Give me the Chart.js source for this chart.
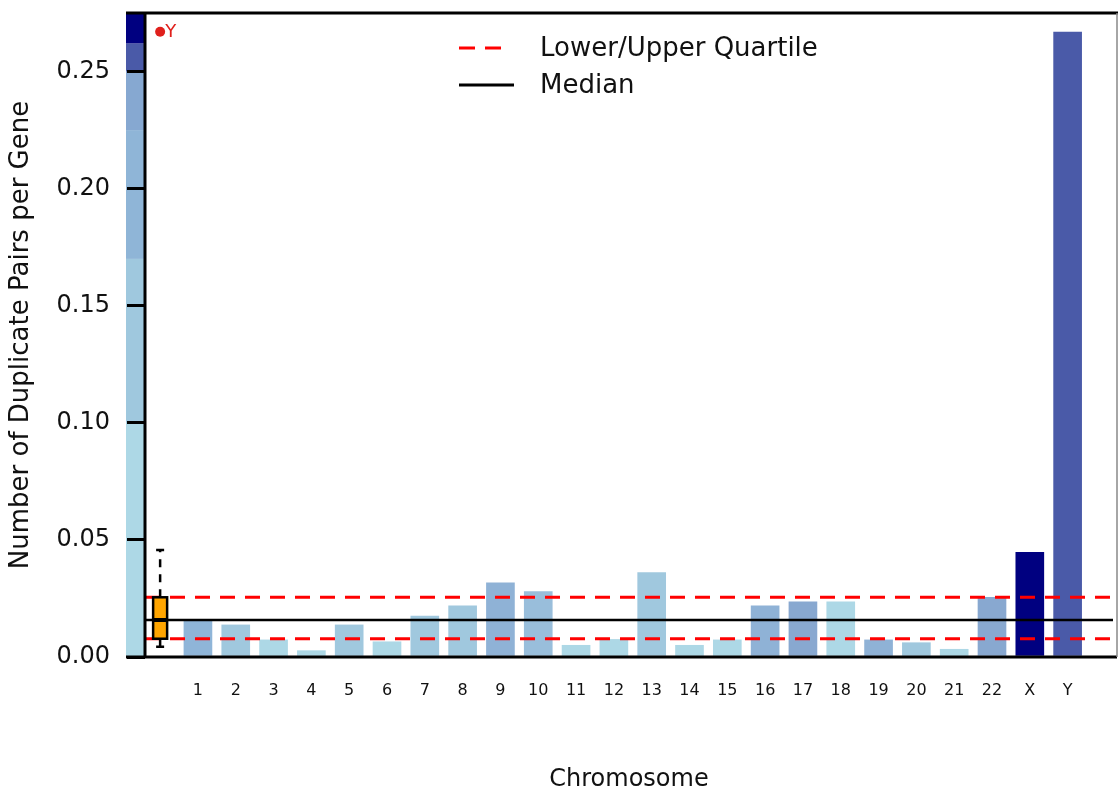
<!DOCTYPE html>
<html>
<head>
<meta charset="utf-8">
<script src="https://cdn.jsdelivr.net/npm/chart.js@4/dist/chart.umd.min.js"></script>
<style>
  body { margin: 0; background: #fff; }
  #wrap { width: 1118px; height: 796px; position: relative; }
</style>
</head>
<body>
<div id="wrap"><canvas id="chart"></canvas></div>
<script>
// Chromosome categories and duplicate pairs per gene
const chromosomes = ['1','2','3','4','5','6','7','8','9','10','11','12','13','14','15','16','17','18','19','20','21','22','X','Y'];
const dupPerGene = [0.0157, 0.0137, 0.0073, 0.0027, 0.0137, 0.0065, 0.0175, 0.0218, 0.0317, 0.0279, 0.0050, 0.0075,
                    0.0361, 0.0050, 0.0073, 0.0219, 0.0236, 0.0236, 0.0073, 0.0061, 0.0033, 0.0255, 0.0447, 0.2668];
const barColors = ['#8fb5d8', '#a0c8de', '#add8e6', '#add8e6', '#a0c8de', '#add8e6', '#a0c8de', '#a0c8de', '#8fb2d6', '#99bedb',
                   '#add8e6', '#add8e6', '#a0c8de', '#add8e6', '#add8e6', '#8fb2d6', '#88a8d0', '#add8e6', '#8fb2d6', '#a0c8de',
                   '#add8e6', '#88a8d0', '#000080', '#4a5aa8'];

// Boxplot summary (min whisker, Q1, median, Q3, max whisker) and outlier
const boxStats = [0.0044, 0.0078, 0.0158, 0.0255, 0.0457];
const outlierValue = 0.267;
const outlierLabel = 'Y';

// Left colour key: breaks (value bounds) and colours
const keyBreaks = [0, 0.10, 0.17, 0.225, 0.25, 0.262, 0.275];
const keyColors = ['#add8e6', '#9fc8de', '#8fb5d7', '#86a8d1', '#4a5aa8', '#000080'];

const yTicks = [0, 0.05, 0.10, 0.15, 0.20, 0.25];
const FONT = "'DejaVu Sans', Arial, sans-serif";

const xMin = -0.4, xMax = 25.2;

const keyPlugin = {
  id: 'keyPlugin',
  beforeDraw(chart) {
    const ctx = chart.ctx, y = chart.scales.y, area = chart.chartArea;
    ctx.save();
    for (let i = 0; i < keyColors.length; i++) {
      const top = y.getPixelForValue(keyBreaks[i + 1]);
      const bot = y.getPixelForValue(keyBreaks[i]);
      ctx.fillStyle = keyColors[i];
      ctx.fillRect(area.left - 19, top, 19, bot - top);
    }
    ctx.restore();
  },
  afterDatasetsDraw(chart) {
    const ctx = chart.ctx, x = chart.scales.x, y = chart.scales.y, area = chart.chartArea;
    ctx.save();

    // boxplot
    const cx = x.getPixelForValue(0);
    const [mn, q1, med, q3, mx] = boxStats.map(v => y.getPixelForValue(v));
    ctx.strokeStyle = '#000';
    ctx.lineWidth = 2.5;
    ctx.setLineDash([8, 7]);
    ctx.beginPath();
    ctx.moveTo(cx, q3); ctx.lineTo(cx, mx);
    ctx.moveTo(cx, q1); ctx.lineTo(cx, mn);
    ctx.stroke();
    ctx.setLineDash([]);
    ctx.beginPath();
    ctx.moveTo(cx - 4, mx); ctx.lineTo(cx + 4, mx);
    ctx.moveTo(cx - 4, mn); ctx.lineTo(cx + 4, mn);
    ctx.stroke();
    ctx.fillStyle = '#ffa500';
    ctx.fillRect(cx - 7, q3, 14, q1 - q3);
    ctx.strokeRect(cx - 7, q3, 14, q1 - q3);
    ctx.lineWidth = 4;
    ctx.beginPath();
    ctx.moveTo(cx - 7, med); ctx.lineTo(cx + 7, med);
    ctx.stroke();

    // outlier label
    ctx.fillStyle = '#e0201c';
    ctx.font = '18px ' + FONT;
    ctx.textBaseline = 'middle';
    ctx.fillText(outlierLabel, cx + 5, y.getPixelForValue(outlierValue) + 1);

    // frame
    ctx.strokeStyle = '#000';
    ctx.lineWidth = 3;
    ctx.beginPath();
    ctx.moveTo(area.left - 19, area.top); ctx.lineTo(chart.width, area.top);
    ctx.moveTo(area.left - 19, area.bottom); ctx.lineTo(chart.width - 1, area.bottom);
    ctx.moveTo(area.left, area.top); ctx.lineTo(area.left, area.bottom);
    ctx.stroke();
    ctx.lineWidth = 1.5;
    ctx.strokeStyle = '#888';
    ctx.beginPath();
    ctx.moveTo(chart.width - 1, area.top); ctx.lineTo(chart.width - 1, area.bottom);
    ctx.stroke();

    // legend
    ctx.font = '26px ' + FONT;
    ctx.fillStyle = '#111';
    ctx.strokeStyle = '#ff0000';
    ctx.lineWidth = 3;
    ctx.setLineDash([16, 10]);
    ctx.beginPath(); ctx.moveTo(459, 48); ctx.lineTo(503, 48); ctx.stroke();
    ctx.setLineDash([]);
    ctx.strokeStyle = '#000';
    ctx.beginPath(); ctx.moveTo(459, 85); ctx.lineTo(514, 85); ctx.stroke();
    ctx.fillText('Lower/Upper Quartile', 540, 49);
    ctx.fillText('Median', 540, 86);
    ctx.restore();
  }
};

const barData = dupPerGene.map((v, i) => ({ x: i + 1, y: v }));
const hLine = v => [{ x: xMin, y: v }, { x: xMax, y: v }];

new Chart(document.getElementById('chart'), {
  type: 'bar',
  data: {
    datasets: [
      { type: 'line', data: hLine(boxStats[3]), borderColor: '#ff0000', borderWidth: 3, borderDash: [15, 10], pointRadius: 0, order: 1 },
      { type: 'line', data: hLine(boxStats[1]), borderColor: '#ff0000', borderWidth: 3, borderDash: [15, 10], pointRadius: 0, order: 1 },
      { type: 'line', data: hLine(boxStats[2]), borderColor: '#000000', borderWidth: 2.5, pointRadius: 0, order: 1 },
      { type: 'scatter', data: [{ x: 0, y: outlierValue }], backgroundColor: '#e0201c', borderWidth: 0, pointRadius: 5, order: 0 },
      { type: 'bar', data: barData, backgroundColor: barColors, barThickness: 28, order: 2 }
    ]
  },
  options: {
    responsive: true,
    maintainAspectRatio: false,
    animation: false,
    events: [],
    layout: { padding: { top: 13, right: 1 } },
    plugins: { legend: { display: false }, tooltip: { enabled: false } },
    scales: {
      x: {
        type: 'linear',
        offset: false,
        min: xMin,
        max: xMax,
        afterFit(s) { s.height = 139; s.paddingLeft = 0; s.paddingRight = 0; },
        afterBuildTicks(s) { s.ticks = chromosomes.map((c, i) => ({ value: i + 1 })); },
        ticks: {
          autoSkip: false,
          maxRotation: 0,
          padding: 24,
          color: '#111',
          font: { family: FONT, size: 16 },
          callback: v => chromosomes[v - 1]
        },
        grid: { display: false, drawTicks: false },
        border: { display: false },
        title: { display: true, text: 'Chromosome', color: '#111', font: { family: FONT, size: 24 }, padding: { top: 0, bottom: 2 } }
      },
      y: {
        min: 0,
        max: 0.275,
        afterFit(s) { s.width = 145; s.paddingTop = 0; s.paddingBottom = 0; },
        afterBuildTicks(s) { s.ticks = yTicks.map(v => ({ value: v })); },
        ticks: {
          padding: 17,
          color: '#111',
          font: { family: FONT, size: 24 },
          callback: v => v.toFixed(2)
        },
        grid: { drawOnChartArea: false, tickLength: 18, tickColor: '#000', lineWidth: 3 },
        border: { display: false },
        title: { display: true, text: 'Number of Duplicate Pairs per Gene', color: '#111', font: { family: FONT, size: 26 }, padding: { top: 6, bottom: 0 } }
      }
    }
  },
  plugins: [keyPlugin]
});
</script>
</body>
</html>
